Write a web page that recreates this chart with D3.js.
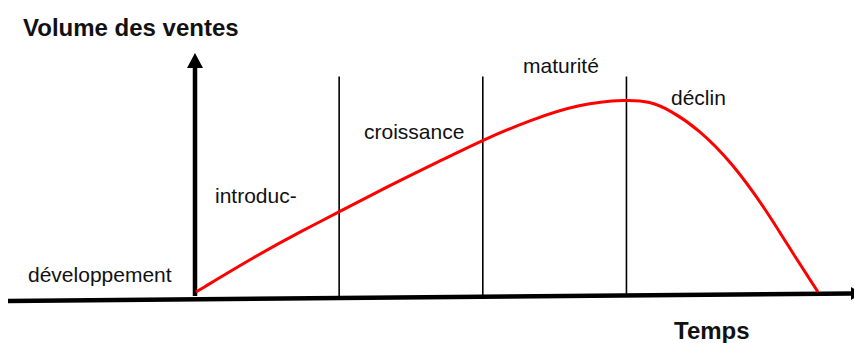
<!DOCTYPE html>
<html>
<head>
<meta charset="utf-8">
<script src="https://cdn.jsdelivr.net/npm/d3@7"></script>
<style>
  body { margin: 0; background: #fff; }
  svg { display: block; }
  text { font-family: "Liberation Sans", Arial, sans-serif; fill: #111; }
</style>
</head>
<body>
<svg width="854" height="343"></svg>
<script>
// time in "phase" units (each phase is one unit wide), volume in % of the peak
const time   = [0, 0.42, 0.74, 1.0, 1.35, 1.70, 2.0, 2.32, 2.67, 3.0, 3.16, 3.30, 3.50, 3.73, 3.97, 4.11, 4.33]
const volume = [0, 19, 32, 42, 55.7, 68.5, 79.5, 89.6, 98.3, 100.5, 99.5, 95, 85, 67.7, 42.7, 25.5, 0]
const boundaries = [1, 2, 3]
const phases = ['développement', 'introduc-', 'croissance', 'maturité', 'déclin']
const yTitle = 'Volume des ventes'
const xTitle = 'Temps'

const svg = d3.select('svg'),
    x = d3.scaleLinear().domain([0, 4.33]).range([196, 818]),
    y = d3.scaleLinear().domain([0, 100]).range([292, 100.5])

// x axis (slightly tilted, as in the scan)
svg.append('line')
    .attr('x1', 8).attr('y1', 301)
    .attr('x2', 852).attr('y2', 293.5)
    .attr('stroke', '#000')
    .attr('stroke-width', 4.5)
svg.append('path')
    .attr('d', 'M851,287 L851,300 L862,293.5 Z')
    .attr('fill', '#000')

// phase separators
svg.selectAll('.sep')
  .data(boundaries)
  .enter().append('line')
    .attr('class', 'sep')
    .attr('x1', d => x(d) - 0.5).attr('x2', d => x(d) - 0.5)
    .attr('y1', 76.5).attr('y2', 296)
    .attr('stroke', '#000')
    .attr('stroke-width', 1.6)

// y axis with arrow
svg.append('line')
    .attr('x1', x(0) - 1).attr('x2', x(0) - 1)
    .attr('y1', 296).attr('y2', 67)
    .attr('stroke', '#000')
    .attr('stroke-width', 4.5)
svg.append('path')
    .attr('d', `M${x(0) - 9},68 L${x(0) + 7},68 L${x(0) - 1},53 Z`)
    .attr('fill', '#000')

// life cycle curve
const line = d3.line()
    .x(d => x(d[0]))
    .y(d => y(d[1]))
    .curve(d3.curveBasis)

svg.append('path')
    .datum(time.map((t, i) => [t, volume[i]]))
    .attr('d', line)
    .attr('fill', 'none')
    .attr('stroke', '#ff0000')
    .attr('stroke-width', 3)

// phase labels
const labelPos = [[28, 282], [215, 203], [364, 139], [523, 73], [671, 105]]
svg.selectAll('.phase')
  .data(phases)
  .enter().append('text')
    .attr('class', 'phase')
    .attr('x', (d, i) => labelPos[i][0])
    .attr('y', (d, i) => labelPos[i][1])
    .attr('font-size', 21)
    .text(d => d)

svg.append('text')
    .attr('x', 23).attr('y', 36)
    .attr('font-size', 24)
    .attr('font-weight', 'bold')
    .text(yTitle)

svg.append('text')
    .attr('x', 674).attr('y', 339)
    .attr('font-size', 24)
    .attr('font-weight', 'bold')
    .text(xTitle)
</script>
</body>
</html>
